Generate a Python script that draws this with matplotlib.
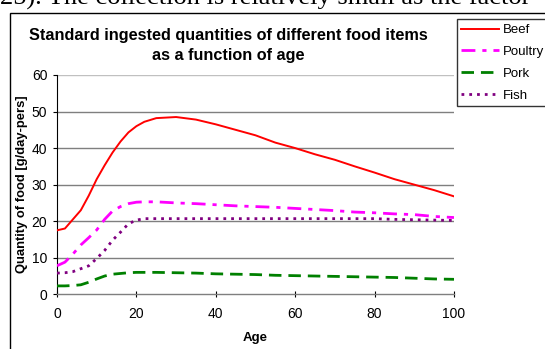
import matplotlib
matplotlib.use("Agg")
import matplotlib.pyplot as plt
from matplotlib.patches import Rectangle

plt.rcParams['font.family'] = ['Liberation Sans', 'DejaVu Sans']

ages = [0, 2, 4, 6, 8, 10, 12, 14, 16, 18, 20, 22, 25, 30, 35, 40, 45, 50,
        55, 60, 65, 70, 75, 80, 85, 90, 95, 100]
beef = [17.5, 18, 20.5, 23, 27, 31.5, 35.3, 38.8, 41.8, 44.3, 46, 47.2, 48.2,
        48.5, 47.8, 46.5, 45, 43.5, 41.5, 40, 38.3, 36.8, 35, 33.3, 31.5, 30,
        28.5, 26.8]
poultry = [7.8, 8.8, 11, 13.5, 15.5, 17.6, 20.5, 22.8, 24, 24.8, 25.2, 25.3,
           25.3, 25, 24.8, 24.5, 24.2, 24, 23.8, 23.5, 23.2, 22.9, 22.5, 22.3,
           22, 21.8, 21.3, 21]
pork = [2.3, 2.3, 2.4, 2.6, 3.3, 4.2, 5, 5.5, 5.7, 5.9, 6, 6, 6, 5.9, 5.8,
        5.6, 5.5, 5.4, 5.2, 5.1, 5, 4.9, 4.8, 4.7, 4.6, 4.4, 4.2, 4.1]
fish = [5.8, 5.9, 6.2, 7, 7.8, 9.8, 12, 14.8, 17, 19.3, 20.3, 20.7, 20.7,
        20.7, 20.7, 20.7, 20.7, 20.7, 20.7, 20.7, 20.7, 20.7, 20.7, 20.7,
        20.5, 20.4, 20.3, 20.2]

series_names = ["Beef", "Poultry", "Pork", "Fish"]
yticks = [0, 10, 20, 30, 40, 50, 60]
xticks = [0, 20, 40, 60, 80, 100]
title_lines = ["Standard ingested quantities of different food items",
               "as a function of age"]

W, H = 545, 349
fig = plt.figure(figsize=(W / 100, H / 100), dpi=100)

# document text clipped at top
fig.text(0 / W, 1 - 4.5 / H, "25). The collection is relatively small as the factor",
         family=['Liberation Serif'], fontsize=19, ha='left', va='baseline')

# outer chart frame
fig.patches.append(Rectangle((10 / W, -0.2), 1.2, 0.2 + (1 - 12.5 / H),
                             transform=fig.transFigure, fill=False,
                             edgecolor='black', lw=1.0))

ax = fig.add_axes([57 / W, 1 - 294.3 / H, (454 - 57) / W, (294.3 - 75) / H])
ax.set_xlim(0, 100)
ax.set_ylim(0, 60)
ax.patch.set_alpha(0)

for v in yticks[1:]:
    ax.axhline(v, color='#c0c0c0' if v == 60 else '#7f7f7f', lw=1.0, zorder=1)

ax.plot(ages, beef, color='#ff0000', lw=1.4, label=series_names[0], zorder=3)
ax.plot(ages, poultry, color='#ff00ff', lw=2.0, dashes=(5, 2.5, 1.5, 2.5),
        label=series_names[1], zorder=3)
ax.plot(ages, pork, color='#008000', lw=2.0, dashes=(4.5, 2.5),
        label=series_names[2], zorder=3)
ax.plot(ages, fish, color='#800080', lw=2.0, dashes=(1, 1.8),
        label=series_names[3], zorder=3)

for s in ['top', 'right']:
    ax.spines[s].set_visible(False)
ax.spines['left'].set_color('black')
ax.spines['bottom'].set_color('#7f7f7f')
ax.spines['bottom'].set_linewidth(1.0)

ax.set_xticks(xticks)
ax.set_yticks(yticks)
ax.tick_params(axis='y', direction='out', length=3, width=0.8, pad=4, labelsize=10)
ax.tick_params(axis='x', direction='inout', length=5, width=0.8, pad=7, labelsize=10)

ax.set_xlabel("Age", fontweight='bold', fontsize=9.5)
ax.xaxis.set_label_coords(0.5, -(338 - 294.3) / (294.3 - 75), transform=ax.transAxes)
ax.xaxis.label.set_va('center')
ax.set_ylabel("Quantity of food [g/day-pers]", fontweight='bold', fontsize=9.4)
ax.yaxis.set_label_coords(-(57 - 22.5) / (454 - 57), 0.5, transform=ax.transAxes)
ax.yaxis.label.set_va('center')

fig.text(228 / W, 1 - 40 / H, title_lines[0], ha='center', va='baseline',
         fontweight='bold', fontsize=11.7)
fig.text(228 / W, 1 - 60 / H, title_lines[1], ha='center', va='baseline',
         fontweight='bold', fontsize=11.7)

leg = fig.legend(loc='upper left', bbox_to_anchor=(456.5 / W, 1 - 19.5 / H),
                 bbox_transform=fig.transFigure, frameon=True, fancybox=False,
                 fontsize=9.5, handlelength=2.9, handletextpad=0.25,
                 labelspacing=0.72, borderpad=0.35, borderaxespad=0)
leg.get_frame().set_edgecolor('black')
leg.get_frame().set_linewidth(1.0)

fig.savefig("out.png", dpi=100)
